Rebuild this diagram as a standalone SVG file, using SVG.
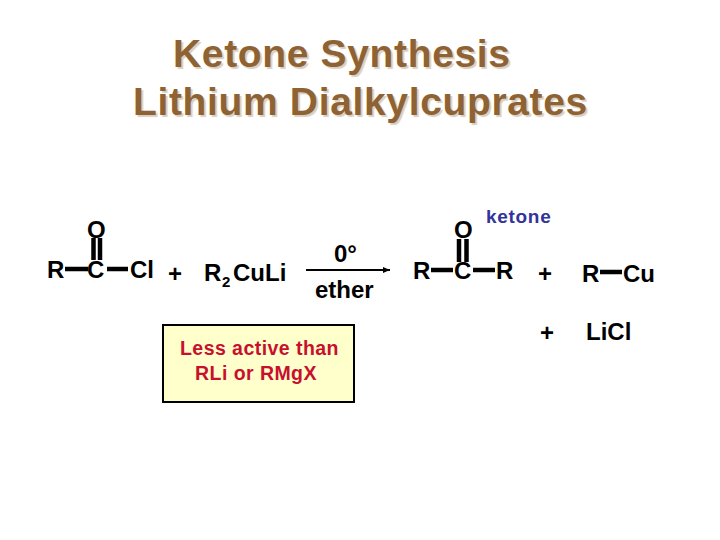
<svg xmlns="http://www.w3.org/2000/svg" width="720" height="540" viewBox="0 0 720 540">
<style>
text{font-family:"Liberation Sans",Arial,sans-serif;font-weight:700}
.t{font-size:39px;fill:#8f6234;letter-spacing:.65px;text-shadow:2px 2px 1px #d8cfc2}
.c{font-size:24px;fill:#000}
.b{stroke:#000;stroke-width:4.5;fill:none}
.r{font-size:19.5px;fill:#c8102e;letter-spacing:.45px}
</style>
<rect width="720" height="540" fill="#fff"/>
<g id="title">
<text class="t" x="173" y="67">Ketone Synthesis</text>
<text class="t" x="133" y="115">Lithium Dialkylcuprates</text>
</g>
<g id="reactant-acid-chloride">
<text class="c" x="47" y="278">R</text>
<text class="c" x="87" y="278">C</text>
<text class="c" x="130" y="278">Cl</text>
<text class="c" x="87" y="238">O</text>
</g>
<g id="plus-1"><text class="c" x="168" y="282">+</text></g>
<g id="cuprate">
<text class="c" x="204" y="281">R</text>
<text x="222" y="287" style="font-size:15px">2</text>
<text class="c" x="233" y="281">CuLi</text>
</g>
<g id="conditions">
<text class="c" x="334" y="262">0°</text>
<text class="c" x="315" y="298">ether</text>
</g>
<g id="note">
<rect x="163" y="325" width="191" height="77" fill="#ffffcc" stroke="#000" stroke-width="2"/>
<text class="r" x="180" y="355">Less active than</text>
<text class="r" x="195" y="380">RLi or RMgX</text>
</g>
<g id="label-ketone"><text x="486" y="223" style="font-size:19px;fill:#333399;letter-spacing:.7px">ketone</text></g>
<g id="product-ketone">
<text class="c" x="413" y="279">R</text>
<text class="c" x="454" y="279">C</text>
<text class="c" x="496" y="279">R</text>
<text class="c" x="454" y="238">O</text>
</g>
<g id="plus-2"><text class="c" x="538" y="282">+</text></g>
<g id="product-rcu">
<text class="c" x="582" y="282">R</text>
<text class="c" x="623" y="282">Cu</text>
</g>
<g id="plus-3"><text class="c" x="540" y="341">+</text></g>
<g id="product-licl"><text class="c" x="586" y="340">LiCl</text></g>
<g id="connectors">
<defs><marker id="a" markerWidth="8" markerHeight="8" refX="7" refY="3" orient="auto" markerUnits="userSpaceOnUse"><path d="M0 0L7 3L0 6z" fill="#000"/></marker></defs>
<path class="b" d="M65 269H88M107 269H128M93.500 238V260M100 238V260M431 270H453M473 270H495M459 239V262M466.500 239V262M600 272H622"/>
<path d="M306 270H390" stroke="#000" stroke-width="2" fill="none" marker-end="url(#a)"/>
</g>
</svg>
